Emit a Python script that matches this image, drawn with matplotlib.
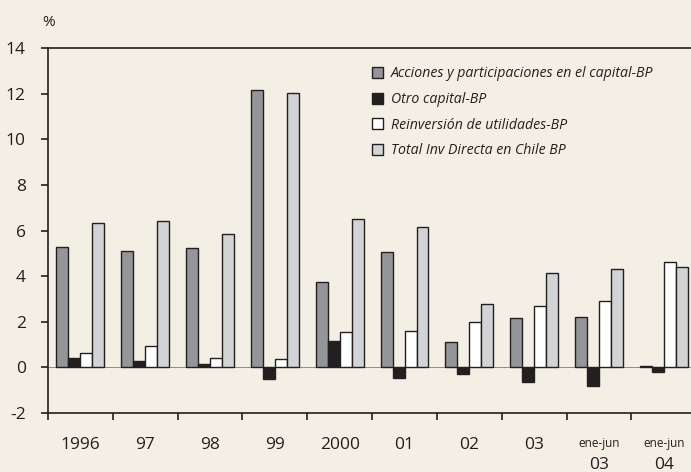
import matplotlib
matplotlib.use("Agg")
import matplotlib.pyplot as plt
import matplotlib.transforms as mtransforms
import numpy as np

# data (%)
periods = ["1996", "97", "98", "99", "2000", "01", "02", "03", "ene-jun\n03", "ene-jun\n04"]
acciones = [5.3, 5.1, 5.25, 12.15, 3.75, 5.05, 1.1, 2.15, 2.2, 0.05]
otro_capital = [0.4, 0.3, 0.15, -0.5, 1.15, -0.45, -0.3, -0.65, -0.8, -0.2]
reinversion = [0.65, 0.95, 0.42, 0.37, 1.55, 1.6, 2.0, 2.7, 2.9, 4.6]
total = [6.35, 6.4, 5.85, 12.05, 6.5, 6.15, 2.8, 4.15, 4.3, 4.4]

series_names = ["Acciones y participaciones en el capital-BP", "Otro capital-BP",
                "Reinversión de utilidades-BP", "Total Inv Directa en Chile BP"]
series_colors = ["#939598", "#231F20", "#FFFFFF", "#D1D3D4"]

bg = "#F4EFE5"
ink = "#231F20"
plt.rcParams['font.family'] = ['Open Sans', 'DejaVu Sans']

fig = plt.figure(figsize=(6.91, 4.72), dpi=100, facecolor=bg)
ax = fig.add_axes([0.0695, 0.125, 0.938, 0.773], facecolor=bg)

x = np.arange(len(periods)) + 0.5
w = 0.185
for k, (vals, name, col) in enumerate(zip([acciones, otro_capital, reinversion, total],
                                           series_names, series_colors)):
    ax.bar(x + (k - 1.5) * w, vals, w, color=col, edgecolor=ink, linewidth=1.0,
           label=name, zorder=3)

ax.axhline(0, color="#8c8c8c", linewidth=0.7, zorder=2)

ax.set_xlim(0, 10)
ax.set_ylim(-2, 14)
ax.set_yticks(np.arange(-2, 15, 2))
ax.set_yticklabels([str(v) for v in range(-2, 15, 2)], fontsize=12.5, color=ink)
ax.set_xticks(np.arange(0, 11))
ax.set_xticklabels([])
ax.tick_params(axis="both", direction="out", length=5, width=1.2, color=ink)
ax.tick_params(axis="y", pad=11)

for s in ["left", "top", "bottom"]:
    ax.spines[s].set_color(ink)
    ax.spines[s].set_linewidth(1.2)
ax.spines["right"].set_visible(False)

# period labels under each group
trans = mtransforms.blended_transform_factory(ax.transData, fig.transFigure)
for xi, lab in zip(x, periods):
    if lab.startswith("ene-jun"):
        top, bot = lab.split("\n")
        ax.text(xi, 1 - 443 / 472, top, transform=trans, ha="center", va="center",
                fontsize=8.5, color=ink)
        ax.text(xi, 1 - 465 / 472, bot, transform=trans, ha="center", va="center",
                fontsize=12.5, color=ink)
    else:
        ax.text(xi, 1 - 445 / 472, lab, transform=trans, ha="center", va="center",
                fontsize=12.5, color=ink)

fig.text(42 / 691, 1 - 23 / 472, "%", fontsize=11, color=ink, ha="left", va="center")

leg = ax.legend(loc="upper left", bbox_to_anchor=(0.5, 0.95), frameon=False,
                prop={"style": "italic", "size": 10.2}, handlelength=0.8,
                handleheight=0.8, handletextpad=0.55, labelspacing=0.75,
                borderpad=0, borderaxespad=0)
for t in leg.get_texts():
    t.set_color(ink)

plt.savefig("out.png", dpi=100, facecolor=bg)
